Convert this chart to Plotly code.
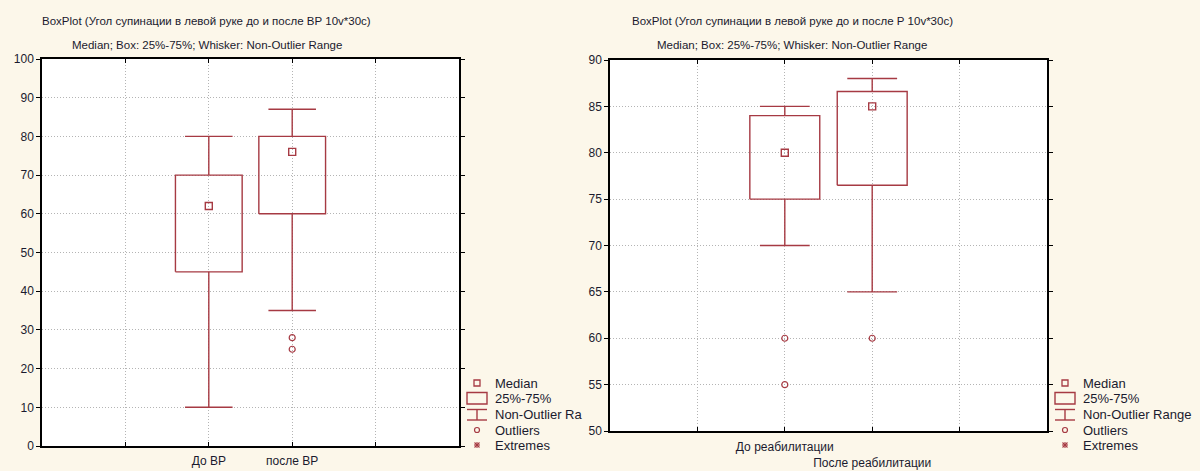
import plotly.graph_objects as go

# ---------------- data ----------------
left_categories = ["До ВР", "после ВР"]
left_median = [62, 76]
left_q1 = [45, 60]
left_q3 = [70, 80]
left_low = [10, 35]
left_high = [80, 87]
left_outliers = [[], [28, 25]]

right_categories = ["До реабилитации", "После реабилитации"]
right_median = [80, 85]
right_q1 = [75, 76.5]
right_q3 = [84, 86.6]
right_low = [70, 65]
right_high = [85, 88]
right_outliers = [[60, 55], [60]]

left_yticks = list(range(0, 101, 10))
right_yticks = list(range(50, 91, 5))

left_title = "BoxPlot (Угол супинации в левой руке до и после ВР 10v*30с)"
right_title = "BoxPlot (Угол супинации в левой руке до и после Р 10v*30с)"
subtitle = "Median; Box: 25%-75%; Whisker: Non-Outlier Range"
legend_labels = ["Median", "25%-75%", "Non-Outlier Range", "Outliers", "Extremes"]

# ---------------- style ----------------
W, H = 1200, 471
RED = "#a63a43"
TXT = "#1a1a2e"
BG = "#fcf7ea"
FONT = "Liberation Sans, Arial, sans-serif"
BOX_HALF = 0.4
CAP_HALF = 0.285
CAT_POS = [2, 3]


def px_x(p):
    return p / W


def px_y(p):
    return 1 - p / H


fig = go.Figure()


def add_boxes(xa, ya, cats, med, q1, q3, low, high, outs):
    bx, by, wx, wy, ox, oy = [], [], [], [], [], []
    for i in range(len(cats)):
        c = CAT_POS[i]
        bx += [c - BOX_HALF, c + BOX_HALF, c + BOX_HALF, c - BOX_HALF, c - BOX_HALF, None]
        by += [q1[i], q1[i], q3[i], q3[i], q1[i], None]
        wx += [c, c, None, c, c, None,
               c - CAP_HALF, c + CAP_HALF, None, c - CAP_HALF, c + CAP_HALF, None]
        wy += [low[i], q1[i], None, q3[i], high[i], None,
               low[i], low[i], None, high[i], high[i], None]
        for o in outs[i]:
            ox.append(c)
            oy.append(o)
    fig.add_trace(go.Scatter(x=wx, y=wy, mode="lines", line=dict(color=RED, width=1.4),
                             xaxis=xa, yaxis=ya, hoverinfo="skip", showlegend=False))
    fig.add_trace(go.Scatter(x=bx, y=by, mode="lines", line=dict(color=RED, width=1.4),
                             xaxis=xa, yaxis=ya, hoverinfo="skip", showlegend=False))
    fig.add_trace(go.Scatter(x=CAT_POS[:len(cats)], y=med, mode="markers",
                             marker=dict(symbol="square-open", size=7, color=RED,
                                         line=dict(width=1.4, color=RED)),
                             xaxis=xa, yaxis=ya, showlegend=False))
    fig.add_trace(go.Scatter(x=ox, y=oy, mode="markers",
                             marker=dict(symbol="circle-open", size=6, color=RED,
                                         line=dict(width=1.2, color=RED)),
                             xaxis=xa, yaxis=ya, showlegend=False))


add_boxes("x", "y", left_categories, left_median, left_q1, left_q3,
          left_low, left_high, left_outliers)
add_boxes("x2", "y2", right_categories, right_median, right_q1, right_q3,
          right_low, right_high, right_outliers)

axis_common = dict(showline=True, linecolor="black", linewidth=1.5, mirror="ticks",
                   showgrid=True, gridcolor="#b4b4b4", griddash="1px,2px", gridwidth=1,
                   zeroline=False, tickfont=dict(family=FONT, size=12, color=TXT),
                   ticklen=4, tickcolor="black", tickangle=0, automargin=False)

fig.update_layout(
    width=W, height=H, autosize=False,
    margin=dict(l=0, r=0, t=0, b=0, pad=0),
    paper_bgcolor=BG, plot_bgcolor="white",
    showlegend=False,
    font=dict(family=FONT, size=12, color=TXT),
    xaxis=dict(domain=[px_x(42), px_x(459)], range=[0, 5], anchor="y",
               tickvals=[1, 2, 3, 4], ticktext=["", left_categories[0], left_categories[1], ""],
               ticks="inside", ticklabelstandoff=3, **axis_common),
    yaxis=dict(domain=[px_y(446), px_y(59)], range=[0, 100], anchor="x",
               tickvals=left_yticks, ticks="outside", **axis_common),
    xaxis2=dict(domain=[px_x(610), px_x(1047)], range=[0, 5], anchor="y2",
                tickvals=[1, 2, 3, 4],
                ticktext=["", right_categories[0], "<br>" + right_categories[1], ""],
                ticks="inside", ticklabelstandoff=4, **axis_common),
    yaxis2=dict(domain=[px_y(431), px_y(60)], range=[50, 90], anchor="x2",
                tickvals=right_yticks, ticks="outside", **axis_common),
)

# ---------------- titles ----------------
annotations = []
for cx, t in [(207, left_title), (792, right_title)]:
    annotations.append(dict(x=px_x(cx), y=px_y(21), xref="paper", yref="paper", text=t,
                            showarrow=False, xanchor="center", yanchor="middle",
                            font=dict(family=FONT, size=11.5, color=TXT)))
    annotations.append(dict(x=px_x(cx), y=px_y(45), xref="paper", yref="paper", text=subtitle,
                            showarrow=False, xanchor="center", yanchor="middle",
                            font=dict(family=FONT, size=11.5, color=TXT)))

# ---------------- custom legends (decoration) ----------------
shapes = []
row_y = [383, 398, 414, 430, 445]


def pline(x0, y0, x1, y1, w=1.4):
    shapes.append(dict(type="line", xref="paper", yref="paper",
                       x0=px_x(x0), x1=px_x(x1), y0=px_y(y0), y1=px_y(y1),
                       line=dict(color=RED, width=w)))


for lx, labels in [(467, legend_labels[:2] + ["Non-Outlier Ra"] + legend_labels[3:]),
                   (1055, legend_labels)]:
    cx = lx + 10
    shapes.append(dict(type="rect", xref="paper", yref="paper",
                       x0=px_x(cx - 3), x1=px_x(cx + 3), y0=px_y(row_y[0] + 3),
                       y1=px_y(row_y[0] - 3), line=dict(color=RED, width=1.3)))
    shapes.append(dict(type="rect", xref="paper", yref="paper",
                       x0=px_x(lx), x1=px_x(lx + 20), y0=px_y(404), y1=px_y(392.5),
                       line=dict(color=RED, width=1.4)))
    pline(lx, 409.5, lx + 20, 409.5)
    pline(lx, 420, lx + 20, 420)
    pline(cx, 409.5, cx, 420)
    shapes.append(dict(type="circle", xref="paper", yref="paper",
                       x0=px_x(cx - 2.5), x1=px_x(cx + 2.5), y0=px_y(row_y[3] + 2.5),
                       y1=px_y(row_y[3] - 2.5), line=dict(color=RED, width=1.2)))
    ey = row_y[4]
    pline(cx - 3, ey, cx + 3, ey, 1.1)
    pline(cx, ey - 3, cx, ey + 3, 1.1)
    pline(cx - 2.5, ey - 2.5, cx + 2.5, ey + 2.5, 1.1)
    pline(cx - 2.5, ey + 2.5, cx + 2.5, ey - 2.5, 1.1)
    for ry, lab in zip(row_y, labels):
        annotations.append(dict(x=px_x(lx + 26), y=px_y(ry), xref="paper", yref="paper",
                                text=lab, showarrow=False, xanchor="left", yanchor="middle",
                                font=dict(family=FONT, size=13, color=TXT)))

fig.update_layout(annotations=annotations, shapes=shapes)

fig.write_html("out.html",
               config={"displayModeBar": False},
               post_script="document.body.style.margin='0';"
                           "document.body.style.background='" + BG + "';"
                           "document.body.style.overflow='hidden';")
